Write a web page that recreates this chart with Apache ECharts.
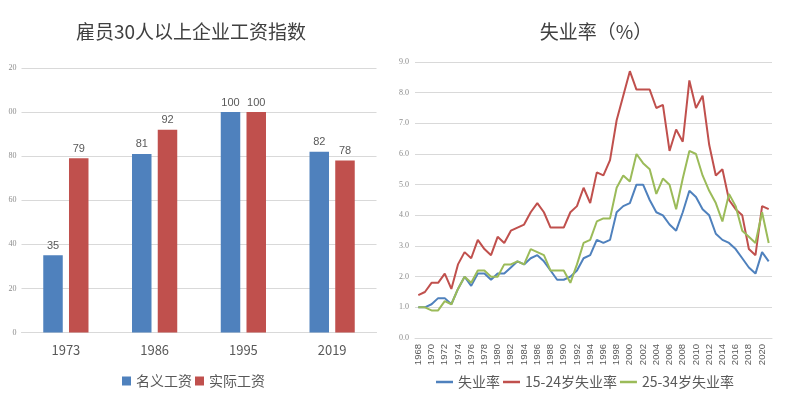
<!DOCTYPE html>
<html>
<head>
<meta charset="utf-8">
<script src="https://cdn.jsdelivr.net/npm/echarts@6/dist/echarts.min.js"></script>
<style>
html,body{margin:0;padding:0;background:#fff;}
#chart{width:788px;height:418px;}
</style>
</head>
<body>
<div id="chart"></div>
<script>
// ---- Left chart data ----
const wageCategories = ['1973', '1986', '1995', '2019'];
const nominalWage = [35, 81, 100, 82];
const realWage = [79, 92, 100, 78];
const wageTicks = [0, 20, 40, 60, 80, 100, 120];

// ---- Right chart data ----
const years = ['1968','1969','1970','1971','1972','1973','1974','1975','1976','1977',
  '1978','1979','1980','1981','1982','1983','1984','1985','1986','1987',
  '1988','1989','1990','1991','1992','1993','1994','1995','1996','1997',
  '1998','1999','2000','2001','2002','2003','2004','2005','2006','2007',
  '2008','2009','2010','2011','2012','2013','2014','2015','2016','2017',
  '2018','2019','2020','2021'];
const unempAll = [1.0,1.0,1.1,1.3,1.3,1.1,1.6,2.0,1.7,2.1,
  2.1,1.9,2.1,2.1,2.3,2.5,2.4,2.6,2.7,2.5,
  2.2,1.9,1.9,2.0,2.2,2.6,2.7,3.2,3.1,3.2,
  4.1,4.3,4.4,5.0,5.0,4.5,4.1,4.0,3.7,3.5,
  4.1,4.8,4.6,4.2,4.0,3.4,3.2,3.1,2.9,2.6,
  2.3,2.1,2.8,2.5];
const unemp1524 = [1.4,1.5,1.8,1.8,2.1,1.6,2.4,2.8,2.6,3.2,
  2.9,2.7,3.3,3.1,3.5,3.6,3.7,4.1,4.4,4.1,
  3.6,3.6,3.6,4.1,4.3,4.9,4.4,5.4,5.3,5.8,
  7.1,7.9,8.7,8.1,8.1,8.1,7.5,7.6,6.1,6.8,
  6.4,8.4,7.5,7.9,6.3,5.3,5.5,4.5,4.2,4.0,
  2.9,2.7,4.3,4.2];
const unemp2534 = [1.0,1.0,0.9,0.9,1.2,1.1,1.6,2.0,1.8,2.2,
  2.2,2.0,2.0,2.4,2.4,2.5,2.4,2.9,2.8,2.7,
  2.2,2.2,2.2,1.8,2.4,3.1,3.2,3.8,3.9,3.9,
  4.9,5.3,5.1,6.0,5.7,5.5,4.7,5.2,5.0,4.2,
  5.2,6.1,6.0,5.3,4.8,4.4,3.8,4.7,4.3,3.5,
  3.3,3.1,4.1,3.1];

const blue = '#4F81BD', red = '#C0504D', green = '#9BBB59';
const gridColor = '#d9d9d9';
const cjk = '"Noto Sans CJK SC", "Noto Sans", sans-serif';

const chart = echarts.init(document.getElementById('chart'), null, {renderer: 'canvas'});
chart.setOption({
  backgroundColor: '#ffffff',
  animation: false,
  textStyle: {fontFamily: cjk},
  title: [
    {text: '雇员30人以上企业工资指数', left: 186, top: 17, textAlign: 'center',
     textStyle: {fontFamily: cjk, fontSize: 19, fontWeight: 'normal', color: '#404040'}},
    {text: '失业率（%）', left: 591, top: 17, textAlign: 'center',
     textStyle: {fontFamily: cjk, fontSize: 19, fontWeight: 'normal', color: '#404040'}}
  ],
  legend: [
    {data: ['名义工资', '实际工资'], left: 117, top: 369, itemWidth: 9, itemHeight: 9,
     itemGap: 3, icon: 'rect',
     textStyle: {fontFamily: cjk, fontSize: 14, color: '#595959'}},
    {data: ['失业率', '15-24岁失业率', '25-34岁失业率'], left: 431, top: 370,
     itemWidth: 17, itemHeight: 2.5, itemGap: 3,
     icon: 'path://M0,0L17,0L17,2.5L0,2.5Z',
     textStyle: {fontFamily: cjk, fontSize: 14, color: '#595959'}}
  ],
  grid: [
    {left: 21.5, width: 355, top: 68, height: 264.5},
    {left: 415, width: 357, top: 62, height: 276}
  ],
  xAxis: [
    {type: 'category', gridIndex: 0, data: wageCategories,
     axisLine: {lineStyle: {color: gridColor}}, axisTick: {show: false},
     axisLabel: {color: '#595959', fontSize: 13, margin: 11, fontFamily: cjk}},
    {type: 'category', gridIndex: 1, data: years, boundaryGap: true,
     axisLine: {lineStyle: {color: gridColor}}, axisTick: {show: false},
     axisLabel: {color: '#595959', fontSize: 9.5, rotate: 90, interval: 1, margin: 6,
       fontFamily: '"Liberation Sans", sans-serif'}}
  ],
  yAxis: [
    {type: 'value', gridIndex: 0, min: wageTicks[0], max: wageTicks[wageTicks.length - 1], interval: 20,
     axisLine: {show: false}, axisTick: {show: false},
     splitLine: {lineStyle: {color: gridColor}},
     axisLabel: {color: '#8c8c8c', fontSize: 8, margin: 5, fontFamily: '"Liberation Serif", serif',
       formatter: v => (v >= 100 ? String(v).slice(-2) : String(v))}},
    {type: 'value', gridIndex: 1, min: 0, max: 9, interval: 1,
     axisLine: {show: false}, axisTick: {show: false},
     splitLine: {lineStyle: {color: gridColor}},
     axisLabel: {color: '#8c8c8c', fontSize: 8, margin: 6, fontFamily: '"Liberation Serif", serif',
       formatter: v => v.toFixed(1)}}
  ],
  series: [
    {name: '名义工资', type: 'bar', xAxisIndex: 0, yAxisIndex: 0, data: nominalWage,
     barWidth: 19.5, barGap: '32%', itemStyle: {color: blue},
     label: {show: true, position: 'top', distance: 4, color: '#595959', fontSize: 11,
       fontFamily: '"Liberation Sans", sans-serif'}},
    {name: '实际工资', type: 'bar', xAxisIndex: 0, yAxisIndex: 0, data: realWage,
     barWidth: 19.5, barGap: '32%', itemStyle: {color: red},
     label: {show: true, position: 'top', distance: 4, color: '#595959', fontSize: 11,
       fontFamily: '"Liberation Sans", sans-serif'}},
    {name: '失业率', type: 'line', xAxisIndex: 1, yAxisIndex: 1, data: unempAll,
     symbol: 'none', lineStyle: {color: blue, width: 2}, itemStyle: {color: blue}},
    {name: '15-24岁失业率', type: 'line', xAxisIndex: 1, yAxisIndex: 1, data: unemp1524,
     symbol: 'none', lineStyle: {color: red, width: 2}, itemStyle: {color: red}},
    {name: '25-34岁失业率', type: 'line', xAxisIndex: 1, yAxisIndex: 1, data: unemp2534,
     symbol: 'none', lineStyle: {color: green, width: 2}, itemStyle: {color: green}}
  ]
});
</script>
</body>
</html>
